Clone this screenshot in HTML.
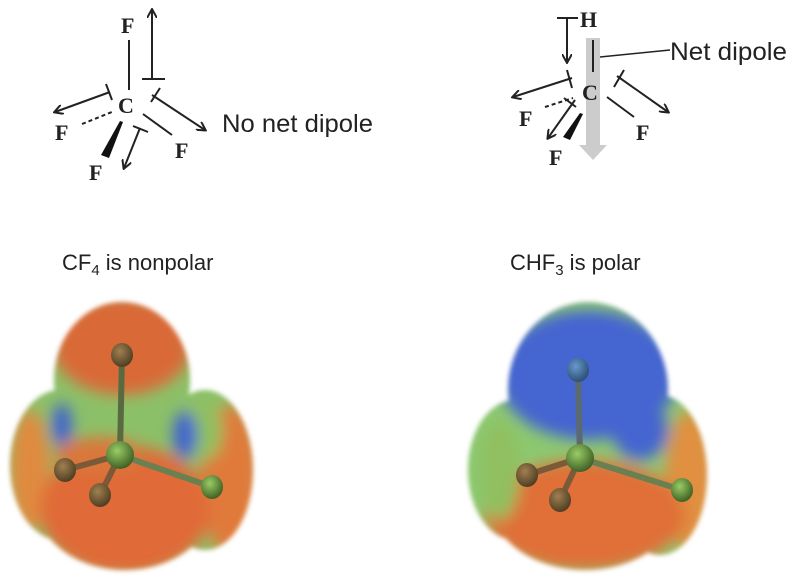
<!DOCTYPE html>
<html><head><meta charset="utf-8"><style>
body{margin:0;background:#fff;width:800px;height:580px;overflow:hidden}
svg{display:block}
.s{font-family:"Liberation Serif",serif;font-weight:bold;font-size:22px;fill:#222}
.t{font-family:"Liberation Sans",sans-serif;font-size:22px;fill:#222}
.u{font-family:"Liberation Sans",sans-serif;font-size:25px;fill:#222}
</style></head><body>
<svg width="800" height="580" viewBox="0 0 800 580">
<defs>
<marker id="a" markerWidth="10" markerHeight="10" refX="8" refY="5" orient="auto" markerUnits="userSpaceOnUse"><path d="M0,0 L9,5 L0,10" fill="none" stroke="#222" stroke-width="2"/></marker>
<filter id="b" x="-30%" y="-30%" width="160%" height="160%"><feGaussianBlur stdDeviation="7"/></filter>
<filter id="e" x="-10%" y="-10%" width="120%" height="120%"><feGaussianBlur stdDeviation="2.5"/></filter>
<radialGradient id="ball" cx="0.4" cy="0.35" r="0.7"><stop offset="0" stop-color="#a08050"/><stop offset="1" stop-color="#4a3a20"/></radialGradient>
<radialGradient id="gball" cx="0.4" cy="0.35" r="0.7"><stop offset="0" stop-color="#9c6"/><stop offset="1" stop-color="#3a5a20"/></radialGradient>
<radialGradient id="bball" cx="0.4" cy="0.35" r="0.7"><stop offset="0" stop-color="#69c"/><stop offset="1" stop-color="#2a4a70"/></radialGradient>
<clipPath id="cl">
<ellipse cx="122" cy="380" rx="68" ry="78"/>
<ellipse cx="60" cy="465" rx="50" ry="75"/>
<ellipse cx="205" cy="470" rx="48" ry="80"/>
<ellipse cx="125" cy="500" rx="90" ry="70"/>
</clipPath>
<clipPath id="cr">
<ellipse cx="588" cy="390" rx="80" ry="88"/>
<ellipse cx="515" cy="470" rx="47" ry="70"/>
<ellipse cx="660" cy="475" rx="47" ry="80"/>
<ellipse cx="585" cy="500" rx="95" ry="70"/>
</clipPath>
</defs>
<g stroke="#222" stroke-width="2" fill="none">
<line x1="129" y1="40" x2="129" y2="90"/>
<line x1="152" y1="80" x2="152" y2="10" marker-end="url(#a)"/>
<line x1="142" y1="79" x2="165" y2="79"/>
<line x1="110" y1="92" x2="55" y2="112" marker-end="url(#a)"/>
<line x1="106" y1="84" x2="112" y2="100"/>
<line x1="82" y1="124" x2="112" y2="112" stroke-dasharray="4,3"/>
<line x1="143" y1="114" x2="172" y2="135"/>
<line x1="152" y1="95" x2="205" y2="130" marker-end="url(#a)"/>
<line x1="160" y1="88" x2="151" y2="102"/>
<line x1="140" y1="128" x2="124" y2="168" marker-end="url(#a)"/>
<line x1="133" y1="126" x2="148" y2="132"/>
<line x1="567" y1="18" x2="567" y2="62" marker-end="url(#a)"/>
<line x1="557" y1="18" x2="578" y2="18"/>
<line x1="572" y1="78" x2="513" y2="97" marker-end="url(#a)"/>
<line x1="567" y1="70" x2="572" y2="88"/>
<line x1="545" y1="107" x2="573" y2="98" stroke-dasharray="4,3"/>
<line x1="607" y1="97" x2="634" y2="117"/>
<line x1="617" y1="76" x2="668" y2="112" marker-end="url(#a)"/>
<line x1="624" y1="70" x2="614" y2="87"/>
<line x1="575" y1="100" x2="548" y2="138" marker-end="url(#a)"/>
<line x1="564" y1="98" x2="576" y2="107"/>
</g>
<polygon points="586,38 600,38 600,145 607,145 593,160 579,145 586,145" fill="#ccc"/>
<line x1="593" y1="40" x2="593" y2="72" stroke="#222" stroke-width="2"/>
<line x1="600" y1="57" x2="670" y2="50" stroke="#222" stroke-width="1.5"/>
<polygon points="120,121 123,122 109,158 101,155" fill="#111"/>
<polygon points="580,113 583,114 570,140 563,137" fill="#111"/>
<text class="s" x="121" y="33">F</text>
<text class="s" x="118" y="113">C</text>
<text class="s" x="55" y="140">F</text>
<text class="s" x="89" y="180">F</text>
<text class="s" x="175" y="158">F</text>
<text class="u" x="222" y="132" textLength="151" lengthAdjust="spacingAndGlyphs">No net dipole</text>
<text class="s" x="580" y="27">H</text>
<text class="s" x="582" y="100">C</text>
<text class="s" x="519" y="126">F</text>
<text class="s" x="549" y="165">F</text>
<text class="s" x="636" y="140">F</text>
<text class="u" x="670" y="60" textLength="117" lengthAdjust="spacingAndGlyphs">Net dipole</text>
<text class="t" x="62" y="270">CF<tspan font-size="15" dy="5">4</tspan><tspan dy="-5"> is nonpolar</tspan></text>
<text class="t" x="510" y="270">CHF<tspan font-size="15" dy="5">3</tspan><tspan dy="-5"> is polar</tspan></text>
<g filter="url(#e)"><g clip-path="url(#cl)">
<rect x="0" y="290" width="270" height="290" fill="#8cc068"/>
<g filter="url(#b)">
<ellipse cx="122" cy="345" rx="70" ry="50" fill="#d96a38"/>
<ellipse cx="30" cy="470" rx="20" ry="60" fill="#e08a40"/>
<ellipse cx="230" cy="480" rx="30" ry="75" fill="#e07a3a"/>
<ellipse cx="205" cy="430" rx="18" ry="30" fill="#90c060"/>
<ellipse cx="185" cy="435" rx="12" ry="24" fill="#3f62cf"/>
<ellipse cx="62" cy="425" rx="10" ry="22" fill="#3f62cf"/>
<ellipse cx="125" cy="510" rx="85" ry="65" fill="#e06a38"/>
<ellipse cx="100" cy="455" rx="45" ry="18" fill="#d9783a"/>
</g></g></g>
<g filter="url(#e)"><g clip-path="url(#cr)">
<rect x="450" y="290" width="280" height="290" fill="#8cc870"/>
<g filter="url(#b)">
<ellipse cx="588" cy="375" rx="90" ry="65" fill="#4565d0"/>
<ellipse cx="640" cy="430" rx="28" ry="30" fill="#4565d0"/>
<ellipse cx="690" cy="480" rx="25" ry="70" fill="#e09040"/>
<ellipse cx="585" cy="515" rx="100" ry="55" fill="#e07038"/>
<ellipse cx="500" cy="470" rx="20" ry="50" fill="#90c060"/>
</g></g></g>
<g stroke-width="6" stroke-linecap="round">
<line x1="122" y1="355" x2="120" y2="455" stroke="#5a6a40"/>
<line x1="120" y1="455" x2="65" y2="470" stroke="#7a5a38"/>
<line x1="120" y1="455" x2="100" y2="495" stroke="#7a5a38"/>
<line x1="120" y1="455" x2="212" y2="487" stroke="#6a8050"/>
<line x1="578" y1="370" x2="580" y2="458" stroke="#5a6a70"/>
<line x1="580" y1="458" x2="527" y2="475" stroke="#7a5a38"/>
<line x1="580" y1="458" x2="560" y2="500" stroke="#7a5a38"/>
<line x1="580" y1="458" x2="682" y2="490" stroke="#6a8050"/>
</g>
<ellipse cx="122" cy="355" rx="11" ry="12" fill="url(#ball)"/>
<ellipse cx="65" cy="470" rx="11" ry="12" fill="url(#ball)"/>
<ellipse cx="100" cy="495" rx="11" ry="12" fill="url(#ball)"/>
<ellipse cx="212" cy="487" rx="11" ry="12" fill="url(#gball)"/>
<ellipse cx="120" cy="455" rx="14" ry="14" fill="url(#gball)"/>
<ellipse cx="578" cy="370" rx="11" ry="12" fill="url(#bball)"/>
<ellipse cx="527" cy="475" rx="11" ry="12" fill="url(#ball)"/>
<ellipse cx="560" cy="500" rx="11" ry="12" fill="url(#ball)"/>
<ellipse cx="682" cy="490" rx="11" ry="12" fill="url(#gball)"/>
<ellipse cx="580" cy="458" rx="14" ry="14" fill="url(#gball)"/>
</svg>
</body></html>
